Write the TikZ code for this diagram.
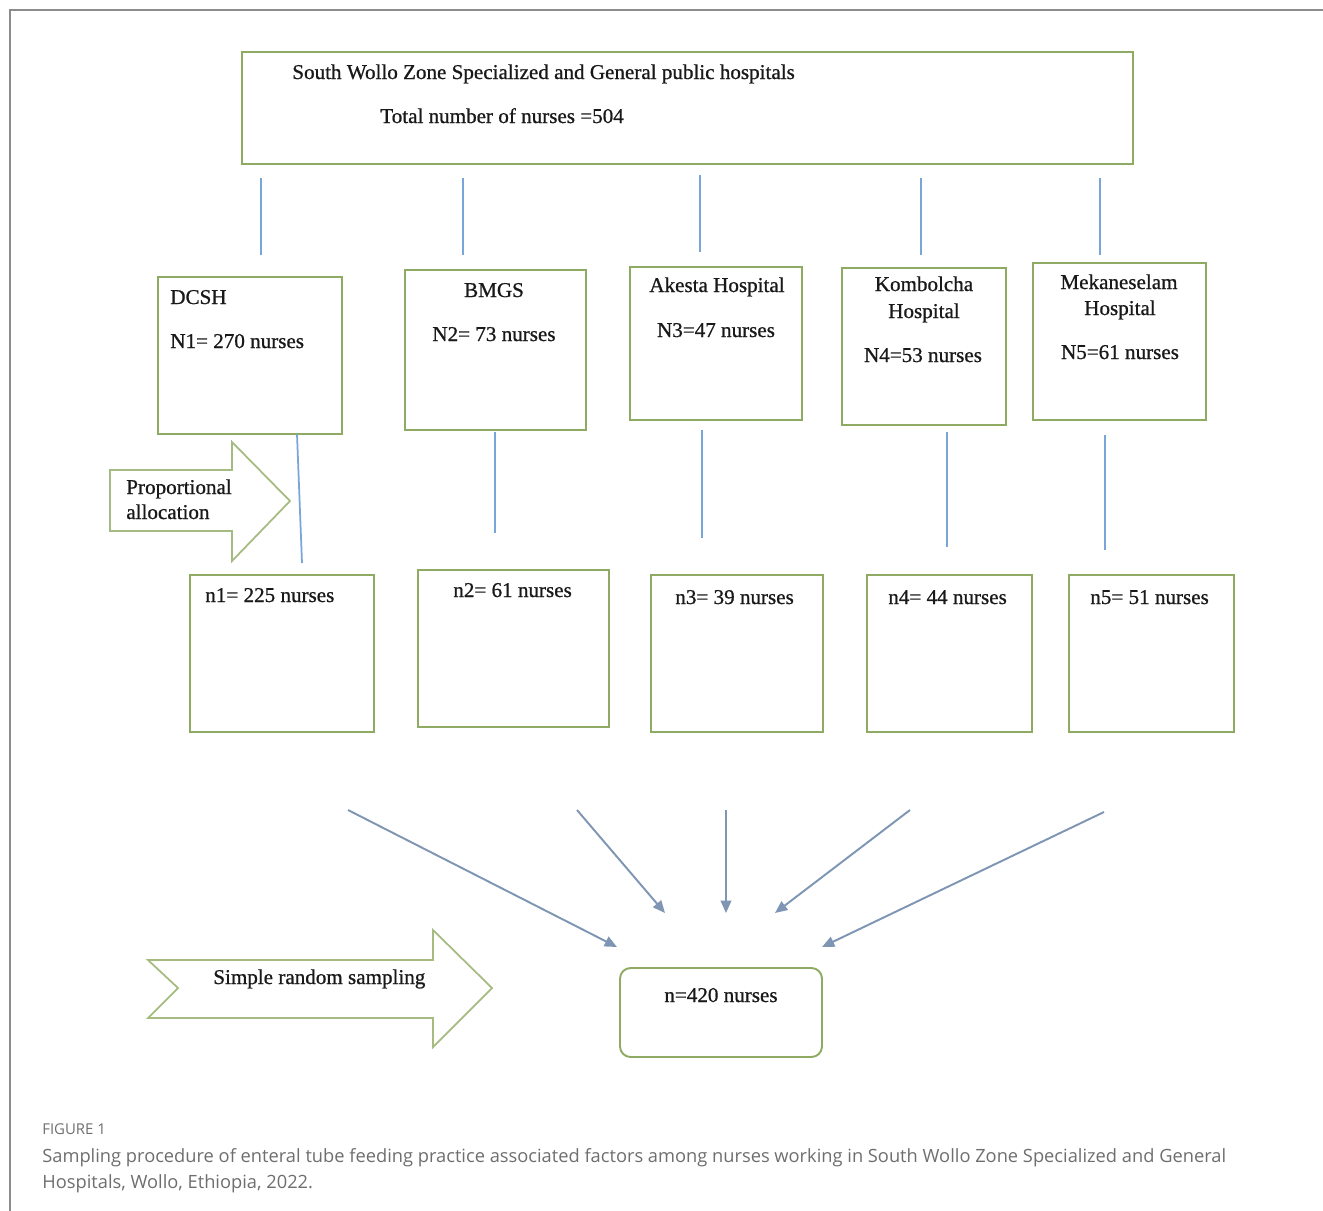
\documentclass[tikz,border=0pt]{standalone}
\usepackage{fontspec}
\setmainfont{Liberation Serif}
\newfontfamily\heavyserif{Liberation Serif}[FakeBold=0.8]
\newfontfamily\capfont{Open Sans}
\usetikzlibrary{arrows.meta}
\definecolor{boxgreen}{HTML}{8FAA62}
\definecolor{linkblue}{HTML}{79A6D8}
\definecolor{arrowgrey}{HTML}{7E95B3}
\definecolor{framegrey}{HTML}{8C8C8C}
\definecolor{capgrey}{HTML}{6E6E6E}
\begin{document}
\begin{tikzpicture}[x=0.02cm,y=-0.02cm,
  box/.style={draw=boxgreen, line width=1.1pt, inner sep=0, fill=white},
  lbl/.style={font=\heavyserif\fontsize{12}{14}\selectfont, inner sep=0, text=black!90},
  lblw/.style={lbl, anchor=base west},
  lblc/.style={lbl, anchor=base},
  link/.style={draw=linkblue, line width=1pt},
  conv/.style={draw=arrowgrey, line width=1.1pt, -{Triangle[length=7pt,width=6pt]}},
  bigarrow/.style={draw=boxgreen!80, line width=1pt, fill=white},
  captext/.style={anchor=base west, inner sep=0, text=capgrey, font=\capfont\fontsize{10.4}{14}\selectfont},
]
\useasboundingbox (0,0) rectangle (1323,1211);
% frame
\draw[framegrey, line width=1.2pt] (10,1211) -- (10,10) -- (1323,10);

% top box
\node[box, minimum width=17.82cm, minimum height=2.24cm] (top) at (687.5,108) {};
\node[lblw] (t1) at (292,79) {South Wollo Zone Specialized and General public hospitals};
\node[lblw] (t2) at (380,123) {Total number of nurses =504};

% hospital boxes
\node[box, minimum width=3.68cm, minimum height=3.14cm] (h1) at (250,355.5) {};
\node[box, minimum width=3.62cm, minimum height=3.2cm] (h2) at (495.5,350) {};
\node[box, minimum width=3.44cm, minimum height=3.06cm] (h3) at (716,343.5) {};
\node[box, minimum width=3.28cm, minimum height=3.14cm] (h4) at (924,346.5) {};
\node[box, minimum width=3.46cm, minimum height=3.14cm] (h5) at (1119.5,341.5) {};

\node[lblw] (h1a) at (170,304) {DCSH};
\node[lblw] (h1b) at (170,348) {N1= 270 nurses};
\node[lblc] (h2a) at (494,297) {BMGS};
\node[lblc] (h2b) at (494,341) {N2= 73 nurses};
\node[lblc] (h3a) at (717,292) {Akesta Hospital};
\node[lblc] (h3b) at (716,337) {N3=47 nurses};
\node[lblc] (h4a) at (924,291) {Kombolcha};
\node[lblc] (h4b) at (924,318) {Hospital};
\node[lblc] (h4c) at (923,362) {N4=53 nurses};
\node[lblc] (h5a) at (1119,289) {Mekaneselam};
\node[lblc] (h5b) at (1120,315) {Hospital};
\node[lblc] (h5c) at (1120,359) {N5=61 nurses};

% sample boxes
\node[box, minimum width=3.68cm, minimum height=3.14cm] (s1) at (282,653.5) {};
\node[box, minimum width=3.82cm, minimum height=3.14cm] (s2) at (513.5,648.5) {};
\node[box, minimum width=3.44cm, minimum height=3.14cm] (s3) at (737,653.5) {};
\node[box, minimum width=3.30cm, minimum height=3.14cm] (s4) at (949.5,653.5) {};
\node[box, minimum width=3.30cm, minimum height=3.14cm] (s5) at (1151.5,653.5) {};
\node[lblw] (s1a) at (205,602) {n1= 225 nurses};
\node[lblw] (s2a) at (453,597) {n2= 61 nurses};
\node[lblw] (s3a) at (675,604) {n3= 39 nurses};
\node[lblw] (s4a) at (888,604) {n4= 44 nurses};
\node[lblw] (s5a) at (1090,604) {n5= 51 nurses};

% final box
\node[box, rounded corners=6pt, minimum width=4.04cm, minimum height=1.78cm] (fin) at (721,1012.5) {};
\node[lblc] (fina) at (721,1002) {n=420 nurses};

% connector coordinates
\coordinate (a1) at (261,178); \coordinate (b1) at (261,255);
\coordinate (a2) at (463,178); \coordinate (b2) at (463,255);
\coordinate (a3) at (700,175); \coordinate (b3) at (700,252);
\coordinate (a4) at (921,178); \coordinate (b4) at (921,255);
\coordinate (a5) at (1100,178); \coordinate (b5) at (1100,255);
\coordinate (c1) at (297,434); \coordinate (d1) at (302,563);
\coordinate (c2) at (495,432); \coordinate (d2) at (495,533);
\coordinate (c3) at (702,430); \coordinate (d3) at (702,538);
\coordinate (c4) at (947,432); \coordinate (d4) at (947,547);
\coordinate (c5) at (1105,435); \coordinate (d5) at (1105,550);
\foreach \i in {1,...,5} {
  \draw[link] (a\i) -- (b\i);
  \draw[link] (c\i) -- (d\i);
}

% converging arrows
\coordinate (e1) at (348,810); \coordinate (f1) at (617,947);
\coordinate (e2) at (577,810); \coordinate (f2) at (665,913);
\coordinate (e3) at (726,810); \coordinate (f3) at (726,913);
\coordinate (e4) at (910,810); \coordinate (f4) at (775,913);
\coordinate (e5) at (1104,812); \coordinate (f5) at (822,947);
\foreach \i in {1,...,5} {
  \draw[conv] (e\i) -- (f\i);
}

% proportional allocation arrow
\draw[bigarrow] (110,470) -- (232,470) -- (232,442) -- (290,501) -- (232,561) -- (232,531) -- (110,531) -- cycle;
\node[lblw] (pa1) at (126,494) {Proportional};
\node[lblw] (pa2) at (126,519) {allocation};

% simple random sampling arrow
\draw[bigarrow] (148,960) -- (433,960) -- (433,930) -- (492,988) -- (433,1047) -- (433,1018) -- (148,1018) -- (178,988) -- cycle;
\node[lblw] (sr) at (213,984) {Simple random sampling};

% caption
\node[captext, font=\capfont\fontsize{8.5}{10}\selectfont] (figlbl) at (42,1134) {FIGURE 1};
\node[captext] (cap1) at (42,1162) {Sampling procedure of enteral tube feeding practice associated factors among nurses working in South Wollo Zone Specialized and General};
\node[captext] (cap2) at (42,1188) {Hospitals, Wollo, Ethiopia, 2022.};
\end{tikzpicture}
\end{document}
